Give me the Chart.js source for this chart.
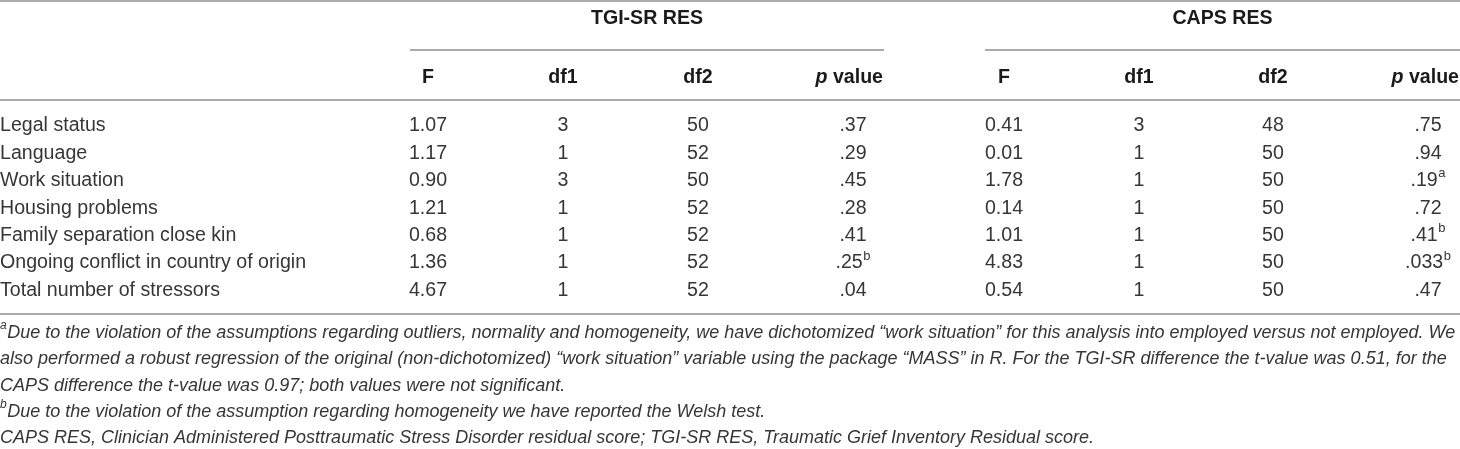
<!DOCTYPE html>
<html>
<head>
<meta charset="utf-8">
<script src="https://cdn.jsdelivr.net/npm/chart.js@4.4.1/dist/chart.umd.min.js"></script>
<style>
  html, body { margin: 0; padding: 0; background: #ffffff; }
  #wrap { width: 1460px; height: 449px; position: relative; }
</style>
</head>
<body>
<div id="wrap"><canvas id="c" width="1460" height="449"></canvas></div>
<script>
// ---------- DATA ----------
const rowLabels = [
  'Legal status',
  'Language',
  'Work situation',
  'Housing problems',
  'Family separation close kin',
  'Ongoing conflict in country of origin',
  'Total number of stressors'
];
const groupTitles = ['TGI-SR RES', 'CAPS RES'];
const columnHeaders = ['F', 'df1', 'df2', 'p value'];

const tgiF    = ['1.07', '1.17', '0.90', '1.21', '0.68', '1.36', '4.67'];
const tgiDf1  = [3, 1, 3, 1, 1, 1, 1];
const tgiDf2  = [50, 52, 50, 52, 52, 52, 52];
const tgiP    = ['.37', '.29', '.45', '.28', '.41', '.25', '.04'];
const tgiPSup = ['', '', '', '', '', 'b', ''];

const capsF    = ['0.41', '0.01', '1.78', '0.14', '1.01', '4.83', '0.54'];
const capsDf1  = [3, 1, 1, 1, 1, 1, 1];
const capsDf2  = [48, 50, 50, 50, 50, 50, 50];
const capsP    = ['.75', '.94', '.19', '.72', '.41', '.033', '.47'];
const capsPSup = ['', '', 'a', '', 'b', 'b', ''];

const footnoteSups = ['a', '', '', 'b', ''];
const footnoteLines = [
  'Due to the violation of the assumptions regarding outliers, normality and homogeneity, we have dichotomized \u201cwork situation\u201d for this analysis into employed versus not employed. We',
  'also performed a robust regression of the original (non-dichotomized) \u201cwork situation\u201d variable using the package \u201cMASS\u201d in R. For the TGI-SR difference the t-value was 0.51, for the',
  'CAPS difference the t-value was 0.97; both values were not significant.',
  'Due to the violation of the assumption regarding homogeneity we have reported the Welsh test.',
  'CAPS RES, Clinician Administered Posttraumatic Stress Disorder residual score; TGI-SR RES, Traumatic Grief Inventory Residual score.'
];

// ---------- LAYOUT / STYLE ----------
const FAMILY = '"Liberation Sans", Arial, sans-serif';
const BODY_SIZE = 19.6;
const FOOT_SIZE = 18;
const SUP_SIZE = 13;
const TEXT = '#363636';
const HEAD = '#1a1a1a';
const RULE = '#8e8e8e';
const cols = [
  { x: 428,  align: 'center' },   // TGI F
  { x: 563,  align: 'center' },   // TGI df1
  { x: 698,  align: 'center' },   // TGI df2
  { x: 853,  align: 'center' },   // TGI p
  { x: 1004, align: 'center' },   // CAPS F
  { x: 1139, align: 'center' },   // CAPS df1
  { x: 1273, align: 'center' },   // CAPS df2
  { x: 1428, align: 'center' }    // CAPS p
];
const headerRight = [null, null, null, 884, null, null, null, 1460];
const groups = [ { x0: 410, x1: 884 }, { x0: 985, x1: 1460 } ];
const Y = { topRule: 1, title: 19, groupRule: 50, header: 78, headRule: 100, bottomRule: 314, foot0: 333, footStep: 26.3 };

function font(size, weight, style) {
  return (style || 'normal') + ' ' + (weight || 'normal') + ' ' + size + 'px ' + FAMILY;
}

function drawWithSup(ctx, main, sup, x, y, align, mainFont, supFont) {
  ctx.font = mainFont;
  const wm = ctx.measureText(main).width;
  ctx.font = supFont;
  const ws = sup ? ctx.measureText(sup).width + 0.5 : 0;
  let start = x;
  if (align === 'center') start = x - (wm + ws) / 2;
  else if (align === 'right') start = x - (wm + ws);
  ctx.textAlign = 'left';
  ctx.textBaseline = 'middle';
  ctx.font = mainFont;
  ctx.fillText(main, start, y);
  if (sup) {
    ctx.font = supFont;
    ctx.fillText(sup, start + wm + 0.5, y - 7);
  }
}

function hRule(ctx, x0, x1, y, w) {
  ctx.beginPath();
  ctx.moveTo(x0, y);
  ctx.lineTo(x1, y);
  ctx.lineWidth = w;
  ctx.strokeStyle = RULE;
  ctx.stroke();
}

const tablePlugin = {
  id: 'tablePlugin',
  afterDraw(chart) {
    const ctx = chart.ctx;
    const xs = chart.scales.x;
    const ys = chart.scales.y;
    const X = v => xs.getPixelForValue(v);
    ctx.save();

    // rules
    hRule(ctx, X(0), X(1460), Y.topRule, 1.6);
    groups.forEach(g => hRule(ctx, X(g.x0), X(g.x1), Y.groupRule, 1.3));
    hRule(ctx, X(0), X(1460), Y.headRule, 1.3);
    hRule(ctx, X(0), X(1460), Y.bottomRule, 1.3);

    // group titles
    ctx.fillStyle = HEAD;
    const bold = font(BODY_SIZE, 'bold');
    groupTitles.forEach((t, gi) => {
      const g = groups[gi];
      drawWithSup(ctx, t, '', (X(g.x0) + X(g.x1)) / 2, Y.title, 'center', bold, bold);
    });

    // column headers
    cols.forEach((c, ci) => {
      const h = columnHeaders[ci % 4];
      const x = X(c.x);
      if (h === 'p value') {
        const pf = font(BODY_SIZE, 'bold', 'italic');
        ctx.font = pf;
        const wp = ctx.measureText('p').width;
        ctx.font = bold;
        const wv = ctx.measureText(' value').width;
        const start = X(headerRight[ci]) - (wp + wv) - 1;
        ctx.textAlign = 'left'; ctx.textBaseline = 'middle';
        ctx.font = pf;
        ctx.fillText('p', start, Y.header);
        ctx.font = bold;
        ctx.fillText(' value', start + wp, Y.header);
      } else {
        drawWithSup(ctx, h, '', x, Y.header, c.align, bold, bold);
      }
    });

    // body rows
    ctx.fillStyle = TEXT;
    const body = font(BODY_SIZE, 'normal');
    const sup = font(SUP_SIZE, 'normal');
    const columns = [tgiF, tgiDf1, tgiDf2, tgiP, capsF, capsDf1, capsDf2, capsP];
    const sups = [null, null, null, tgiPSup, null, null, null, capsPSup];
    rowLabels.forEach((lab, ri) => {
      const y = ys.getPixelForValue(ri);
      drawWithSup(ctx, lab, '', X(0), y, 'left', body, sup);
      columns.forEach((arr, ci) => {
        const s = sups[ci] ? sups[ci][ri] : '';
        drawWithSup(ctx, String(arr[ri]), s, X(cols[ci].x), y, cols[ci].align, body, sup);
      });
    });

    // footnotes
    const ital = font(FOOT_SIZE, 'normal', 'italic');
    const supI = font(12, 'normal', 'italic');
    footnoteLines.forEach((line, i) => {
      const y = Y.foot0 + i * Y.footStep;
      let x = X(0);
      ctx.textAlign = 'left'; ctx.textBaseline = 'middle';
      if (footnoteSups[i]) {
        ctx.font = supI;
        ctx.fillText(footnoteSups[i], x, y - 7);
        x += ctx.measureText(footnoteSups[i]).width + 0.5;
      }
      ctx.font = ital;
      ctx.fillText(line, x, y);
    });
    ctx.restore();
  }
};

// rows placed on a category scale: first row centre y=126, step 27.4
const rowStep = 27.4;
const padTop = 126 - rowStep / 2;
const padBottom = 449 - (padTop + rowStep * rowLabels.length);

new Chart(document.getElementById('c'), {
  type: 'scatter',
  data: { datasets: [] },
  options: {
    responsive: false,
    animation: false,
    devicePixelRatio: 1,
    layout: { padding: { left: 0, right: 0, top: padTop, bottom: padBottom } },
    plugins: { legend: { display: false }, tooltip: { enabled: false }, title: { display: false } },
    scales: {
      x: { type: 'linear', min: 0, max: 1460, display: false },
      y: { type: 'category', labels: rowLabels, offset: true, display: false }
    }
  },
  plugins: [tablePlugin]
});
</script>
</body>
</html>
